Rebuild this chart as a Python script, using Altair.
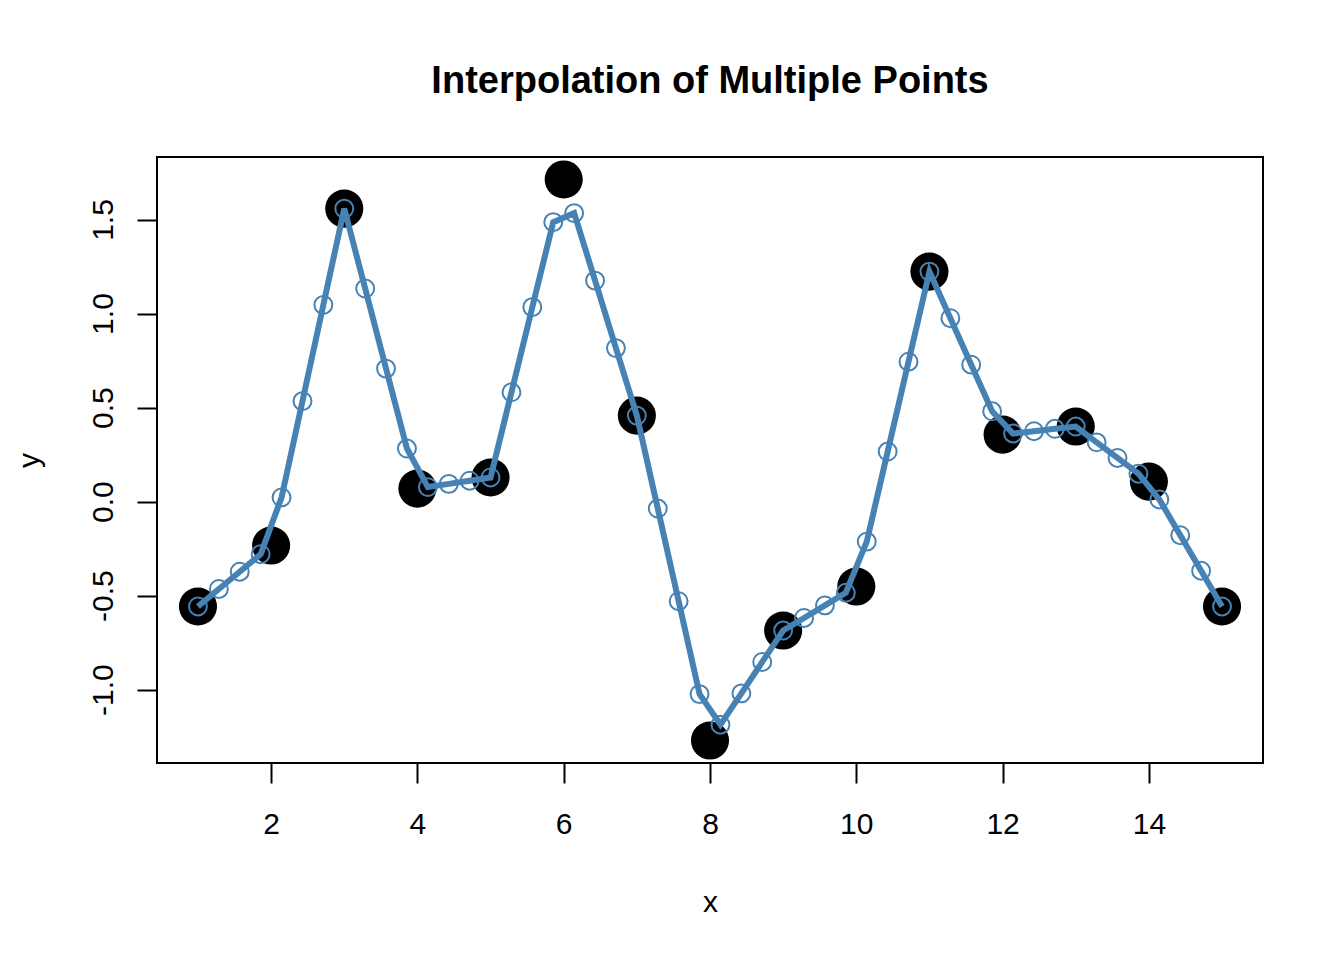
import altair as alt
import pandas as pd

# Original sample points (black)
x_pts = [1, 2, 3, 4, 5, 6, 7, 8, 9, 10, 11, 12, 13, 14, 15]
y_pts = [-0.558, -0.234, 1.558, 0.069, 0.128, 1.713, 0.457, -1.271,
         -0.686, -0.452, 1.223, 0.356, 0.399, 0.106, -0.558]

# Interpolated points (blue open circles)
x_interp = [1.000, 1.286, 1.571, 1.857, 2.143, 2.429, 2.714, 3.000, 3.286, 3.571,
            3.857, 4.143, 4.429, 4.714, 5.000, 5.286, 5.571, 5.857, 6.143, 6.429,
            6.714, 7.000, 7.286, 7.571, 7.857, 8.143, 8.429, 8.714, 9.000, 9.286,
            9.571, 9.857, 10.143, 10.429, 10.714, 11.000, 11.286, 11.571, 11.857, 12.143,
            12.429, 12.714, 13.000, 13.286, 13.571, 13.857, 14.143, 14.429, 14.714, 15.000]
y_interp = [-0.558, -0.465, -0.373, -0.280, 0.022, 0.534, 1.046, 1.558, 1.133, 0.707,
            0.282, 0.077, 0.094, 0.111, 0.128, 0.581, 1.034, 1.486, 1.534, 1.175,
            0.816, 0.457, -0.037, -0.530, -1.024, -1.187, -1.020, -0.853, -0.686, -0.619,
            -0.552, -0.485, -0.213, 0.266, 0.744, 1.223, 0.975, 0.728, 0.480, 0.362,
            0.374, 0.387, 0.399, 0.315, 0.232, 0.148, 0.011, -0.179, -0.368, -0.558]

x_ticks = [2, 4, 6, 8, 10, 12, 14]
y_ticks = [-1.0, -0.5, 0.0, 0.5, 1.0, 1.5]

FONT = "Liberation Sans"
W, H = 1106, 606

pts = pd.DataFrame({"x": x_pts, "y": y_pts})
interp = pd.DataFrame({"x": x_interp, "y": y_interp})

xscale = alt.Scale(domain=[0.44, 15.56], nice=False, zero=False)
yscale = alt.Scale(domain=[-1.3904, 1.8324], nice=False, zero=False)

xaxis = alt.Axis(
    values=x_ticks, format="d", grid=False, domain=False,
    tickColor="black", tickWidth=2, tickSize=20,
    labelFont=FONT, labelFontSize=30, labelColor="black",
    labelBaseline="alphabetic", labelPadding=50, labelFlush=False,
    title="x", titleFont=FONT, titleFontSize=30, titleFontWeight="normal",
    titleColor="black", titleBaseline="alphabetic",
    titleX=W / 2, titleY=148, titleAnchor="middle",
)
yaxis = alt.Axis(
    values=y_ticks, grid=False, domain=False,
    labelExpr="(datum.value < 0 ? '-' : '') + format(abs(datum.value), '.1f')",
    tickColor="black", tickWidth=2, tickSize=20,
    labelFont=FONT, labelFontSize=30, labelColor="black",
    labelAngle=270, labelAlign="center", labelBaseline="alphabetic",
    labelPadding=25, labelFlush=False,
    title="y", titleFont=FONT, titleFontSize=30, titleFontWeight="normal",
    titleColor="black", titleAngle=270, titleBaseline="alphabetic",
    titleX=-119, titleY=H / 2, titleAnchor="middle",
)

black = alt.Chart(pts).mark_point(
    filled=True, shape="circle", color="black", size=1452, opacity=1
).encode(
    x=alt.X("x:Q", scale=xscale, axis=xaxis),
    y=alt.Y("y:Q", scale=yscale, axis=yaxis),
)

line = alt.Chart(interp).mark_line(color="#4682B4", strokeWidth=6).encode(
    x=alt.X("x:Q", scale=xscale),
    y=alt.Y("y:Q", scale=yscale),
    order="x:Q",
)

circles = alt.Chart(interp).mark_point(
    shape="circle", filled=False, color="#4682B4", strokeWidth=2, size=320, opacity=1
).encode(
    x=alt.X("x:Q", scale=xscale),
    y=alt.Y("y:Q", scale=yscale),
)

chart = alt.layer(black, line, circles).properties(
    width=W, height=H,
    background="white",
    title=alt.TitleParams(
        "Interpolation of Multiple Points", font=FONT, fontSize=38,
        fontWeight="bold", color="black", anchor="middle", frame="group",
        baseline="alphabetic", offset=26,
    ),
    autosize=alt.AutoSizeParams(type="none"),
    padding={"left": 149, "top": 149, "right": 60, "bottom": 160},
).configure_view(stroke="black", strokeWidth=2)

chart.save("out.html", embed_options={"renderer": "svg", "actions": False})
